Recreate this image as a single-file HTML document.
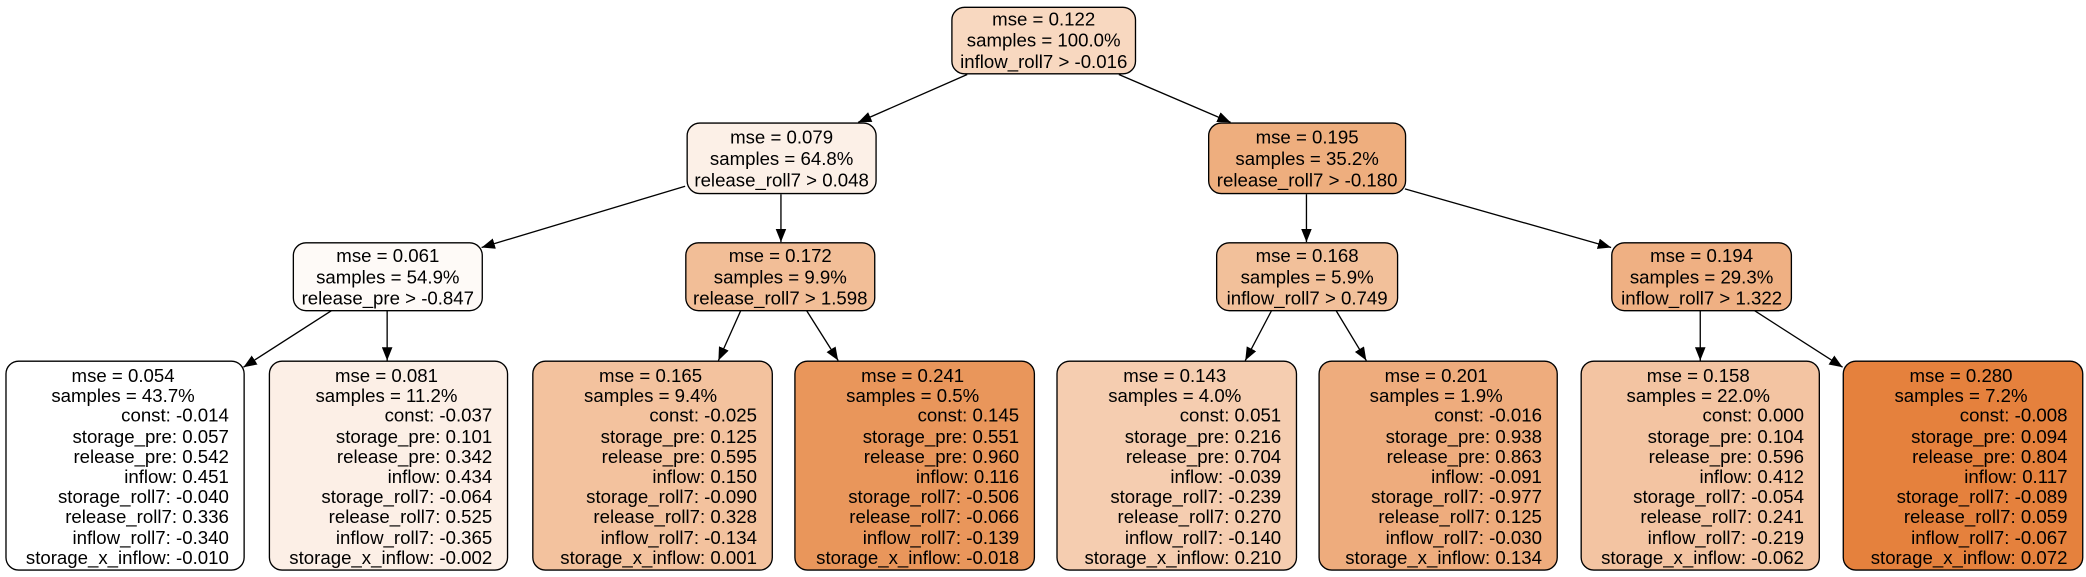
<!DOCTYPE html>
<html><head><meta charset="utf-8"><style>
body{margin:0;width:2086px;height:577px;background:#fff;position:relative;overflow:hidden;font-family:"Liberation Sans",Arial,sans-serif;font-size:14px;color:#000}
#w{position:absolute;left:0;top:0;width:1568px;height:434px;transform:scale(1.3304);transform-origin:0 0}
.n{position:absolute;box-sizing:border-box;border:1px solid #000;border-radius:10px;line-height:16px;text-align:center;padding-top:1px}
.l{padding:3px 11px 0 8px;line-height:15.2px}
.l div{text-align:right}
.l div.c{text-align:center}
svg{position:absolute;left:0;top:0}
</style></head><body><div id="w">
<svg width="1568" height="434">
<defs><marker id="a" markerWidth="10" markerHeight="8" refX="10" refY="4" orient="auto" markerUnits="userSpaceOnUse"><path d="M0,0 L10,4 L0,8 z" fill="#000"/></marker></defs>
<g stroke="#000" stroke-width="1" marker-end="url(#a)">
<line x1="727" y1="56" x2="645" y2="92"/>
<line x1="841" y1="56" x2="925" y2="92"/>
<line x1="515" y1="140" x2="362" y2="186"/>
<line x1="587" y1="146" x2="587" y2="182"/>
<line x1="982" y1="146" x2="982" y2="182"/>
<line x1="1056" y1="142" x2="1211" y2="186"/>
<line x1="250" y1="233" x2="183" y2="276"/>
<line x1="291" y1="233" x2="291" y2="271"/>
<line x1="557" y1="233" x2="540" y2="271"/>
<line x1="606" y1="233" x2="630" y2="271"/>
<line x1="956" y1="233" x2="936" y2="271"/>
<line x1="1004" y1="233" x2="1027" y2="271"/>
<line x1="1278" y1="233" x2="1278" y2="271"/>
<line x1="1318" y1="233" x2="1385" y2="276"/>
</g></svg>

<div class="n" style="left:715px;top:5px;width:139px;height:51px;background:#f8d8c0;padding-top:0">mse = 0.122<br>samples = 100.0%<br>inflow_roll7 &gt; -0.016</div>

<div class="n" style="left:516px;top:92px;width:143px;height:54px;background:#fcf0e7;padding-top:2px">mse = 0.079<br>samples = 64.8%<br>release_roll7 &gt; 0.048</div>
<div class="n" style="left:908px;top:92px;width:149px;height:54px;background:#eeae7e;padding-top:2px">mse = 0.195<br>samples = 35.2%<br>release_roll7 &gt; -0.180</div>

<div class="n" style="left:220px;top:182px;width:143px;height:52px;background:#fefaf7">mse = 0.061<br>samples = 54.9%<br>release_pre &gt; -0.847</div>
<div class="n" style="left:515px;top:182px;width:143px;height:52px;background:#f2be97">mse = 0.172<br>samples = 9.9%<br>release_roll7 &gt; 1.598</div>
<div class="n" style="left:914px;top:182px;width:137px;height:52px;background:#f2c09a">mse = 0.168<br>samples = 5.9%<br>inflow_roll7 &gt; 0.749</div>
<div class="n" style="left:1211px;top:182px;width:136px;height:52px;background:#efb083">mse = 0.194<br>samples = 29.3%<br>inflow_roll7 &gt; 1.322</div>

<div class="n l" style="left:4px;top:271px;width:180px;height:158px;background:#fff"><div class="c">mse = 0.054</div><div class="c">samples = 43.7%</div><div>const: -0.014</div><div>storage_pre: 0.057</div><div>release_pre: 0.542</div><div>inflow: 0.451</div><div>storage_roll7: -0.040</div><div>release_roll7: 0.336</div><div>inflow_roll7: -0.340</div><div>storage_x_inflow: -0.010</div></div>
<div class="n l" style="left:202px;top:271px;width:180px;height:158px;background:#fcefe6"><div class="c">mse = 0.081</div><div class="c">samples = 11.2%</div><div>const: -0.037</div><div>storage_pre: 0.101</div><div>release_pre: 0.342</div><div>inflow: 0.434</div><div>storage_roll7: -0.064</div><div>release_roll7: 0.525</div><div>inflow_roll7: -0.365</div><div>storage_x_inflow: -0.002</div></div>
<div class="n l" style="left:400px;top:271px;width:181px;height:158px;background:#f3c29e"><div class="c">mse = 0.165</div><div class="c">samples = 9.4%</div><div>const: -0.025</div><div>storage_pre: 0.125</div><div>release_pre: 0.595</div><div>inflow: 0.150</div><div>storage_roll7: -0.090</div><div>release_roll7: 0.328</div><div>inflow_roll7: -0.134</div><div>storage_x_inflow: 0.001</div></div>
<div class="n l" style="left:597px;top:271px;width:181px;height:158px;background:#e9965b"><div class="c">mse = 0.241</div><div class="c">samples = 0.5%</div><div>const: 0.145</div><div>storage_pre: 0.551</div><div>release_pre: 0.960</div><div>inflow: 0.116</div><div>storage_roll7: -0.506</div><div>release_roll7: -0.066</div><div>inflow_roll7: -0.139</div><div>storage_x_inflow: -0.018</div></div>
<div class="n l" style="left:794px;top:271px;width:181px;height:158px;background:#f5cdb0"><div class="c">mse = 0.143</div><div class="c">samples = 4.0%</div><div>const: 0.051</div><div>storage_pre: 0.216</div><div>release_pre: 0.704</div><div>inflow: -0.039</div><div>storage_roll7: -0.239</div><div>release_roll7: 0.270</div><div>inflow_roll7: -0.140</div><div>storage_x_inflow: 0.210</div></div>
<div class="n l" style="left:991px;top:271px;width:180px;height:158px;background:#eeac7d"><div class="c">mse = 0.201</div><div class="c">samples = 1.9%</div><div>const: -0.016</div><div>storage_pre: 0.938</div><div>release_pre: 0.863</div><div>inflow: -0.091</div><div>storage_roll7: -0.977</div><div>release_roll7: 0.125</div><div>inflow_roll7: -0.030</div><div>storage_x_inflow: 0.134</div></div>
<div class="n l" style="left:1188px;top:271px;width:180px;height:158px;background:#f3c4a2"><div class="c">mse = 0.158</div><div class="c">samples = 22.0%</div><div>const: 0.000</div><div>storage_pre: 0.104</div><div>release_pre: 0.596</div><div>inflow: 0.412</div><div>storage_roll7: -0.054</div><div>release_roll7: 0.241</div><div>inflow_roll7: -0.219</div><div>storage_x_inflow: -0.062</div></div>
<div class="n l" style="left:1385px;top:271px;width:181px;height:158px;background:#e5813d"><div class="c">mse = 0.280</div><div class="c">samples = 7.2%</div><div>const: -0.008</div><div>storage_pre: 0.094</div><div>release_pre: 0.804</div><div>inflow: 0.117</div><div>storage_roll7: -0.089</div><div>release_roll7: 0.059</div><div>inflow_roll7: -0.067</div><div>storage_x_inflow: 0.072</div></div>
</div></body></html>
